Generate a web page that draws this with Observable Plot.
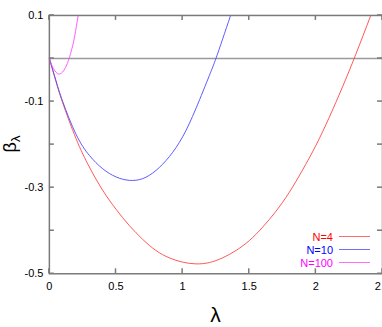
<!DOCTYPE html>
<html><head><meta charset="utf-8">
<script src="https://cdn.jsdelivr.net/npm/d3@7"></script>
<script src="https://cdn.jsdelivr.net/npm/@observablehq/plot@0.6"></script>
<style>
html,body{margin:0;padding:0;background:#fff;overflow:hidden;width:382px;height:327px}
#wrap{position:relative;width:382px;height:327px;font-family:"Liberation Sans",Arial,sans-serif;overflow:hidden}
#wrap svg{position:absolute;left:0;top:0}
.lab{position:absolute;white-space:nowrap;line-height:1}
</style></head><body><div id="wrap"></div>
<script>
// N=4
const lambda4 = [0,0.05,0.1,0.2,0.3,0.4,0.5,0.6,0.7,0.8,0.9,1.0,1.1,1.2,1.3,1.4,1.5,1.6,1.7,1.8,1.9,2.0,2.1,2.2,2.3,2.412];
const beta4   = [0,-0.054,-0.103,-0.186,-0.252,-0.306,-0.35,-0.388,-0.42,-0.446,-0.463,-0.473,-0.477,-0.474,-0.463,-0.446,-0.423,-0.392,-0.355,-0.311,-0.259,-0.202,-0.137,-0.066,0.01,0.1];
// N=10
const lambda10 = [0,0.05,0.1,0.2,0.3,0.4,0.5,0.6,0.7,0.8,0.9,1.0,1.1,1.2,1.25,1.3,1.36];
const beta10   = [0,-0.052,-0.1,-0.176,-0.225,-0.256,-0.275,-0.283,-0.279,-0.26,-0.228,-0.182,-0.116,-0.04,0,0.045,0.1];
// N=100
const lambda100 = [0,0.02,0.04,0.06,0.075,0.09,0.11,0.13,0.148,0.17,0.19,0.216];
const beta100   = [0,-0.017,-0.028,-0.035,-0.036,-0.034,-0.027,-0.015,0,0.024,0.052,0.1];

const seriesNames  = ["N=4","N=10","N=100"];
const seriesColors = ["#ff0000","#0000ff","#ff00ff"];
const lineColors   = ["#ff4545","#4a4aff","#ff4aff"];
const xTicks = [0,0.5,1,1.5,2,2.5];
const yTicks = [-0.5,-0.4,-0.3,-0.2,-0.1,0,0.1];
const yLabelTicks = [-0.5,-0.3,-0.1,0.1];
const xLabel = "λ";
const yLabel = "β";
const yLabelSub = "λ";

const seriesData = [[lambda4,beta4],[lambda10,beta10],[lambda100,beta100]];
const rows = [];
seriesData.forEach(([L,B],i)=>L.forEach((l,j)=>rows.push({series:seriesNames[i],lambda:l,beta:B[j]})));

function innerTicks(index, scales, values, dims) {
  const {x, y} = scales;
  const {width, height, marginLeft, marginRight, marginTop, marginBottom} = dims;
  const L = marginLeft, R = width - marginRight, T = marginTop, Bt = height - marginBottom;
  const g = d3.create("svg:g").attr("stroke","#7a7a7a").attr("stroke-width",1.5).attr("fill","none");
  for (const t of yTicks) {
    const yy = y(t);
    g.append("line").attr("x1",L).attr("x2",L+5).attr("y1",yy).attr("y2",yy);
    g.append("line").attr("x1",R).attr("x2",R-5).attr("y1",yy).attr("y2",yy);
  }
  for (const t of xTicks) {
    const xx = x(t);
    g.append("line").attr("x1",xx).attr("x2",xx).attr("y1",Bt).attr("y2",Bt-5);
    g.append("line").attr("x1",xx).attr("x2",xx).attr("y1",T).attr("y2",T+5);
  }
  return g.node();
}

const chart = Plot.plot({
  width: 383, height: 327,
  marginLeft: 49, marginRight: 0, marginTop: 15, marginBottom: 53,
  style: {fontFamily: '"Liberation Sans", Arial, sans-serif', fontSize: "11px", color: "#000", background: "transparent", overflow: "visible"},
  x: {domain: [0, 2.5]},
  y: {domain: [-0.5, 0.1]},
  color: {domain: seriesNames, range: lineColors},
  marks: [
    Plot.ruleY([0], {stroke: "#9a9a9a", strokeWidth: 1.3}),
    Plot.line(rows, {x: "lambda", y: "beta", z: "series", stroke: "series", strokeWidth: 0.9, curve: "natural", clip: true}),
    Plot.frame({stroke: "#7a7a7a", strokeWidth: 1.5}),
    innerTicks,
    Plot.axisX({ticks: xTicks, tickSize: 0, tickPadding: 8, tickFormat: d => String(d), label: null}),
    Plot.axisY({ticks: yLabelTicks, tickSize: 0, tickPadding: 6, tickFormat: d => d.toFixed(1), label: null})
  ]
});
const wrap = document.getElementById("wrap");
wrap.appendChild(chart);

// axis titles
const xl = document.createElement("div");
xl.className = "lab";
xl.textContent = xLabel;
xl.style.cssText += "left:215.5px;top:314px;transform:translate(-50%,-50%);font-size:21px;";
wrap.appendChild(xl);

const yl = document.createElement("div");
yl.className = "lab";
yl.innerHTML = yLabel + '<span style="font-size:13px;position:relative;top:4px">' + yLabelSub + '</span>';
yl.style.cssText += "left:10px;top:144px;transform:translate(-50%,-50%) rotate(-90deg);font-size:18px;";
wrap.appendChild(yl);

// legend
seriesNames.forEach((name, i) => {
  const cy = 236.5 + 13 * i;
  const t = document.createElement("div");
  t.className = "lab";
  t.textContent = name;
  t.style.cssText += `right:${382-333}px;top:${cy-6}px;font-size:11px;color:${seriesColors[i]};line-height:12px;`;
  wrap.appendChild(t);
  const ln = document.createElement("div");
  ln.style.cssText = `position:absolute;left:339px;top:${cy-0.5}px;width:31px;height:1px;background:${lineColors[i]};opacity:0.8;`;
  wrap.appendChild(ln);
});
</script></body></html>
